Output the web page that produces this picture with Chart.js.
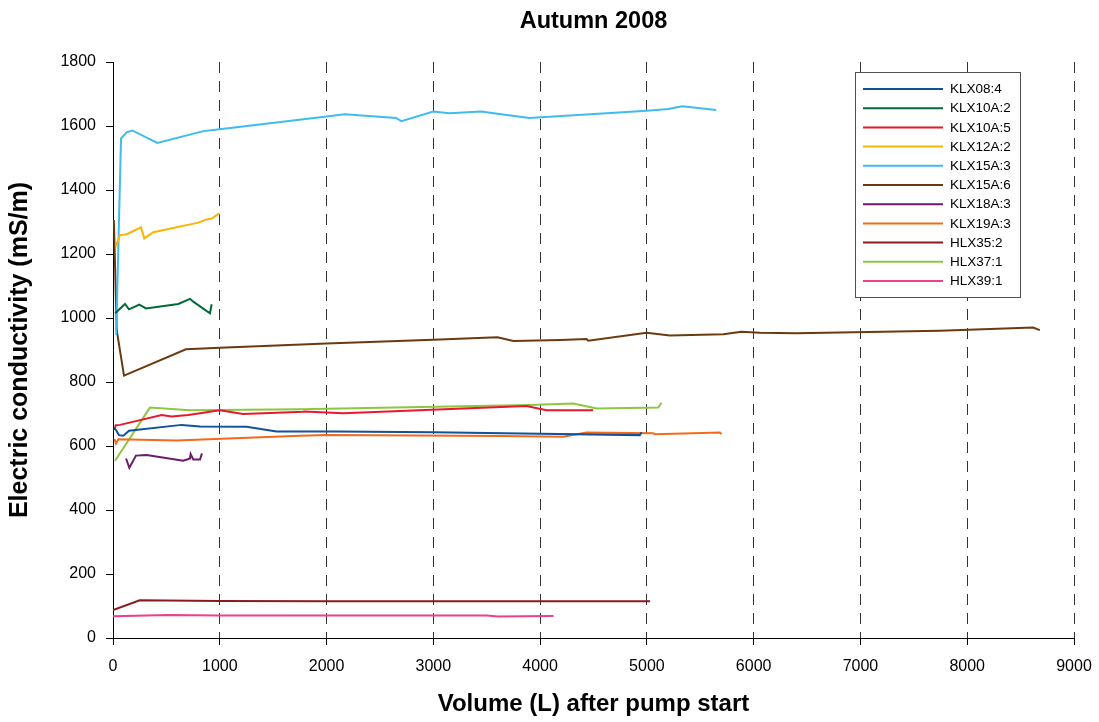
<!DOCTYPE html>
<html>
<head>
<meta charset="utf-8">
<title>Autumn 2008</title>
<script src="https://cdn.jsdelivr.net/npm/chart.js@4/dist/chart.umd.min.js"></script>
<style>
  html, body { margin: 0; padding: 0; background: #fff; }
  #wrap { width: 1099px; height: 722px; }
</style>
</head>
<body>
<div id="wrap"><canvas id="c" width="1099" height="722"></canvas></div>
<script>
// Series labels, in legend order
const seriesNames = ['KLX08:4', 'KLX10A:2', 'KLX10A:5', 'KLX12A:2', 'KLX15A:3', 'KLX15A:6',
                     'KLX18A:3', 'KLX19A:3', 'HLX35:2', 'HLX37:1', 'HLX39:1'];
const seriesColors = ['#0f529e', '#00693a', '#e8192c', '#f7b400', '#3ebdec', '#6b3a10',
                      '#6a1b6a', '#f26a1b', '#8b1a1e', '#8dc63f', '#ec3f8c'];

// Volume (L) after pump start and electric conductivity (mS/m), one pair per borehole section
const klx08_4_vol  = [10, 28, 56, 97, 150, 643, 815, 1251, 1532, 2093, 3000, 3998, 4934, 4950];
const klx08_4_ec   = [656, 650, 634, 632, 648, 666, 661, 660, 645, 645, 643, 638, 634, 643];

const klx10a2_vol  = [20, 112, 150, 246, 309, 612, 721, 752, 908, 924];
const klx10a2_ec   = [1015, 1044, 1027, 1042, 1030, 1044, 1060, 1051, 1015, 1043];

const klx10a5_vol  = [15, 25, 66, 456, 549, 705, 1000, 1220, 1782, 1790, 2157, 3873, 4060, 4497];
const klx10a5_ec   = [650, 665, 666, 697, 692, 697, 712, 700, 707, 708, 702, 725, 712, 712];

const klx12a2_vol  = [25, 66, 128, 262, 293, 378, 799, 877, 924, 996];
const klx12a2_ec   = [1223, 1259, 1262, 1283, 1249, 1268, 1298, 1308, 1311, 1327];

const klx15a3_vol  = [30, 75, 128, 181, 415, 846, 1000, 2000, 2170, 2650, 2700, 3000, 3150, 3450, 3600, 3900, 5000, 5200, 5330, 5650];
const klx15a3_ec   = [947, 1561, 1580, 1586, 1547, 1584, 1590, 1630, 1637, 1625, 1615, 1645, 1640, 1645, 1638, 1625, 1648, 1653, 1662, 1650];

const klx15a6_vol  = [8, 35, 103, 683, 1000, 2000, 3000, 3600, 3750, 4190, 4435, 4451, 4997, 5215, 5715, 5886, 6058, 6400, 7743, 8617, 8680];
const klx15a6_ec   = [1306, 962, 820, 902, 907, 920, 932, 940, 928, 931, 934, 929, 954, 945, 949, 957, 954, 952, 960, 970, 962];

const klx18a3_vol  = [122, 153, 215, 315, 658, 721, 727, 752, 815, 833];
const klx18a3_ec   = [561, 532, 570, 572, 554, 561, 575, 558, 558, 577];

const klx19a3_vol  = [15, 28, 50, 596, 1751, 2001, 3640, 4216, 4435, 5059, 5075, 5684, 5699];
const klx19a3_ec   = [622, 608, 621, 617, 632, 634, 631, 629, 642, 640, 637, 642, 637];

const hlx35_2_vol  = [0, 250, 1000, 2000, 3000, 4000, 5030];
const hlx35_2_ec   = [87, 118, 116, 115, 115, 115, 115];

const hlx37_1_vol  = [19, 346, 721, 1751, 3904, 4310, 4529, 5106, 5137];
const hlx37_1_ec   = [554, 720, 712, 715, 728, 733, 717, 720, 735];

const hlx39_1_vol  = [0, 524, 1000, 3500, 3605, 4125];
const hlx39_1_ec   = [68, 72, 70, 70, 67, 69];

// Axis ticks
const xTicks = [0, 1000, 2000, 3000, 4000, 5000, 6000, 7000, 8000, 9000];
const yTicks = [0, 200, 400, 600, 800, 1000, 1200, 1400, 1600, 1800];

const seriesVols = [klx08_4_vol, klx10a2_vol, klx10a5_vol, klx12a2_vol, klx15a3_vol, klx15a6_vol,
                    klx18a3_vol, klx19a3_vol, hlx35_2_vol, hlx37_1_vol, hlx39_1_vol];
const seriesEcs  = [klx08_4_ec, klx10a2_ec, klx10a5_ec, klx12a2_ec, klx15a3_ec, klx15a6_ec,
                    klx18a3_ec, klx19a3_ec, hlx35_2_ec, hlx37_1_ec, hlx39_1_ec];

const FONT = '"Liberation Sans", Arial, Helvetica, sans-serif';

const datasets = seriesNames.map((name, i) => ({
  label: name,
  data: seriesVols[i].map((v, k) => ({ x: v, y: seriesEcs[i][k] })),
  borderColor: seriesColors[i],
  backgroundColor: seriesColors[i],
  borderWidth: 2,
  pointRadius: 0,
  pointHoverRadius: 0,
  tension: 0,
  fill: false
}));

// Boxed legend placed inside the plot, top right
const boxLegend = {
  id: 'boxLegend',
  afterDraw(chart) {
    const ctx = chart.ctx;
    const left = 855.5, top = 72.5, w = 165, h = 225;
    ctx.save();
    ctx.fillStyle = '#ffffff';
    ctx.fillRect(left, top, w, h);
    ctx.strokeStyle = '#505050';
    ctx.lineWidth = 1;
    ctx.strokeRect(left, top, w, h);
    ctx.font = '13.5px ' + FONT;
    ctx.textBaseline = 'middle';
    ctx.textAlign = 'left';
    chart.data.datasets.forEach((ds, i) => {
      const y = 89 + i * 19.2;
      ctx.strokeStyle = ds.borderColor;
      ctx.lineWidth = 2;
      ctx.beginPath();
      ctx.moveTo(863, y);
      ctx.lineTo(943, y);
      ctx.stroke();
      ctx.fillStyle = '#000';
      ctx.fillText(ds.label, 950, y + 0.5);
    });
    ctx.restore();
  }
};

new Chart(document.getElementById('c'), {
  type: 'line',
  data: { datasets },
  plugins: [boxLegend],
  options: {
    responsive: false,
    animation: false,
    devicePixelRatio: 1,
    layout: { padding: { left: 0, right: 25, top: 0, bottom: 0 } },
    plugins: {
      legend: { display: false },
      tooltip: { enabled: false },
      title: {
        display: true,
        text: 'Autumn 2008',
        fullSize: false,
        color: '#000',
        font: { family: FONT, size: 23.5, weight: 'bold', lineHeight: 1.2 },
        padding: { top: 7, bottom: 26.8 }
      }
    },
    scales: {
      x: {
        type: 'linear',
        min: 0,
        max: 9000,
        afterBuildTicks: (s) => { s.ticks = xTicks.map(v => ({ value: v })); },
        afterFit: (s) => { s.height = 84; s.paddingLeft = 0; s.paddingRight = 0; },
        ticks: { color: '#000', font: { family: FONT, size: 16 }, padding: 12, maxRotation: 0,
                 callback: (v) => String(v) },
        grid: {
          color: (c) => (c.tick && c.tick.value === 0 ? 'rgba(0,0,0,0)' : '#333333'),
          lineWidth: 1,
          tickColor: '#000',
          tickLength: 7,
          tickBorderDash: []
        },
        border: { color: '#000', width: 1, dash: [11, 8] },
        title: {
          display: true,
          text: 'Volume (L) after pump start',
          color: '#000',
          font: { family: FONT, size: 24, weight: 'bold', lineHeight: 1.2 },
          padding: { top: 0, bottom: 3.5 }
        }
      },
      y: {
        type: 'linear',
        min: 0,
        max: 1800,
        afterBuildTicks: (s) => { s.ticks = yTicks.map(v => ({ value: v })); },
        afterFit: (s) => { s.width = 113; s.paddingTop = 0; s.paddingBottom = 0; },
        ticks: { color: '#000', font: { family: FONT, size: 16 }, padding: 10,
                 callback: (v) => String(v) },
        grid: { drawOnChartArea: false, tickColor: '#000', tickLength: 7 },
        border: { color: '#000', width: 1 },
        title: {
          display: true,
          text: 'Electric conductivity (mS/m)',
          color: '#000',
          font: { family: FONT, size: 25, weight: 'bold', lineHeight: 1.2 },
          padding: { top: 5, bottom: 0 }
        }
      }
    }
  }
});
</script>
</body>
</html>
